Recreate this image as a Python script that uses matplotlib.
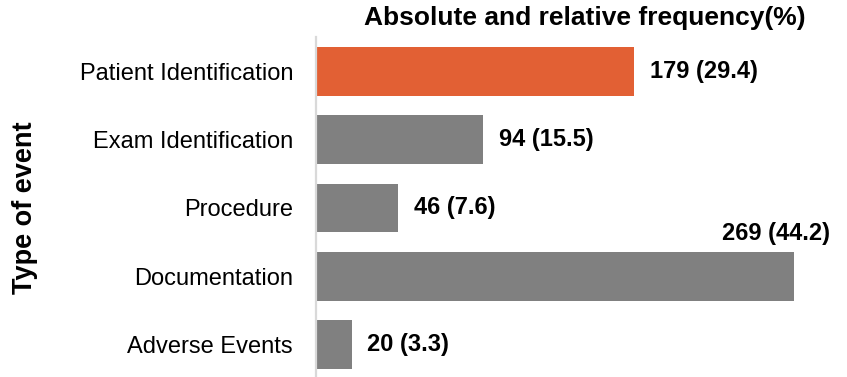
#!/usr/bin/env python3

## Horizontal bar chart: type of event, absolute and relative frequency

import numpy as np
import matplotlib
matplotlib.use('Agg')
import matplotlib.pyplot as plt

# Data ==============================================================
categories=['Patient Identification','Exam Identification','Procedure',
            'Documentation','Adverse Events']
counts=[179,94,46,269,20]
percents=[29.4,15.5,7.6,44.2,3.3]
highlight='Patient Identification'

title_txt='Absolute and relative frequency(%)'
ylabel_txt='Type of event'


# Main part =========================================================
def main():
# ===================================================================
    plt.rcParams['font.family']=['Liberation Sans','DejaVu Sans']

    c_hi='#E26034'
    c_bar='#808080'
    c_axis='#D9D9D9'

    fig=plt.figure(figsize=(8.47,3.77),dpi=100)
    ax=fig.add_axes([316/847,-0.0053,1-316/847,0.9072])

    ypos=np.arange(len(categories))
    colors=[c_hi if c==highlight else c_bar for c in categories]
    ax.barh(ypos,counts,height=0.715,color=colors,zorder=2)

    ax.set_xlim(0,299)
    ax.set_ylim(4.5,-0.5)

    # value labels
    for i,(v,p) in enumerate(zip(counts,percents)):
        lbl='%d (%.1f)' % (v,p)
        if v==max(counts):
            # largest bar: label sits above the bar end
            ax.text(v-10,i-0.63,lbl,ha='center',va='center',
                    fontsize=17,fontweight='bold',color='black')
        else:
            ax.annotate(lbl,xy=(v,i),xytext=(11.5,0),
                        textcoords='offset points',ha='left',va='center',
                        fontsize=17,fontweight='bold',color='black')

    ax.set_yticks(ypos)
    ax.set_yticklabels(categories,fontsize=17)
    ax.tick_params(axis='y',length=0,pad=16.5)
    ax.set_xticks([])

    for s in ['top','right','bottom']:
        ax.spines[s].set_visible(False)
    ax.spines['left'].set_color(c_axis)
    ax.spines['left'].set_linewidth(1.6)

    fig.text(585/847,1-18/377,title_txt,ha='center',va='center',
             fontsize=19,fontweight='bold')
    fig.text(25/847,1-208/377,ylabel_txt,ha='center',va='center',
             rotation=90,fontsize=19.5,fontweight='bold')

    plt.savefig('out.png',dpi=100)
    plt.close('all')


if __name__=='__main__':
    main()
